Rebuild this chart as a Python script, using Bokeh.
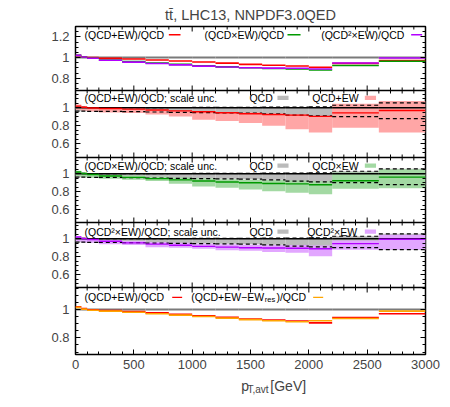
import json
import numpy as np
from bokeh.plotting import figure
from bokeh.layouts import column
from bokeh.models import (Range1d, LinearAxis, FixedTicker, SingleIntervalTicker,
                          Label, BoxAnnotation, CustomJSTickFormatter, Title, Span)
from bokeh.embed import file_html
from bokeh.resources import INLINE

# ---- binned ratios, p_T,avt bins in GeV ----
edges = [0, 50, 100, 200, 400, 600, 800, 1000, 1200, 1400, 1600, 1800, 2000, 2200, 2600, 3000]

qcd_central = [1.0] * 15
r_qcd_ew = [1.018, 1.006, 0.998, 0.992, 0.985, 0.976, 0.966, 0.956, 0.945, 0.933, 0.925, 0.918, 0.905, 0.943, 0.970]
r_qcd_x_ew = [1.020, 1.004, 0.993, 0.976, 0.960, 0.946, 0.933, 0.920, 0.909, 0.900, 0.893, 0.888, 0.879, 0.922, 0.963]
r_qcd2_x_ew = [1.020, 1.004, 0.992, 0.973, 0.955, 0.941, 0.928, 0.916, 0.907, 0.900, 0.897, 0.895, 0.889, 0.946, 0.995]
r_qcd_ew_nores = [1.015, 1.002, 0.994, 0.988, 0.980, 0.970, 0.960, 0.950, 0.939, 0.928, 0.920, 0.913, 0.920, 0.936, 0.988]

# scale-uncertainty envelopes, normalised to central QCD
qcd_up = [1.006, 1.004, 1.003, 1.002, 1.002, 1.002, 1.003, 1.004, 1.005, 1.006, 1.007, 1.008, 1.010, 1.028, 1.055]
qcd_dn = [0.962, 0.962, 0.961, 0.960, 0.957, 0.953, 0.950, 0.947, 0.944, 0.940, 0.933, 0.918, 0.910, 0.902, 0.879]
add_up = [1.037, 1.020, 1.002, 0.990, 0.980, 0.972, 0.962, 0.955, 0.950, 0.948, 0.935, 0.926, 0.910, 1.044, 1.075]
add_dn = [0.978, 0.966, 0.958, 0.948, 0.941, 0.926, 0.904, 0.867, 0.852, 0.830, 0.800, 0.763, 0.726, 0.778, 0.726]
mul_up = [1.035, 1.015, 1.000, 0.990, 0.980, 0.970, 0.960, 0.950, 0.940, 0.935, 0.930, 0.925, 0.918, 1.015, 1.050]
mul_dn = [0.975, 0.962, 0.956, 0.944, 0.933, 0.919, 0.889, 0.859, 0.844, 0.826, 0.807, 0.789, 0.774, 0.833, 0.840]
sq_up = [1.030, 1.015, 1.000, 0.985, 0.975, 0.965, 0.955, 0.945, 0.940, 0.935, 0.930, 0.930, 0.925, 0.980, 1.044]
sq_dn = [0.970, 0.960, 0.955, 0.940, 0.930, 0.907, 0.900, 0.889, 0.874, 0.867, 0.852, 0.844, 0.807, 0.878, 0.881]

lo = edges[:-1]
hi = edges[1:]

FONT = "Liberation Sans"
RED, PINK = "#ff0000", "#ffa6a6"
GREEN, LGREEN = "#009a00", "#a3d9a3"
PURPLE, LPURPLE = "#b300ff", "#e2a6ff"
ORANGE = "#ffa500"
GREY_BAND, GREY_LINE = "#bbbbbb", "#7a7a7a"

# ---- one frame, split into five stacked ratio panels ----
FRAME_H = 328
# name: (slice top, slice bottom) in px from the frame top, (y min, y max), major y ticks
panels = {
    "p1": ((0, 64), (0.68, 1.30), [0.8, 1.0, 1.2]),
    "p2": ((64, 131), (0.448, 1.192), [0.6, 0.8, 1.0]),
    "p3": ((131, 196), (0.459, 1.181), [0.6, 0.8, 1.0]),
    "p4": ((196, 261), (0.459, 1.181), [0.6, 0.8, 1.0]),
    "p5": ((261, 328), (0.682, 1.155), [0.8, 1.0]),
}

p = figure(width=450, height=26 + FRAME_H + 25,
           min_border_left=75, min_border_right=25, min_border_top=26, min_border_bottom=25,
           x_range=Range1d(0, 3000), y_range=Range1d(FRAME_H, 0),
           output_backend="svg", toolbar_location=None, tools="")
p.grid.visible = False
p.outline_line_color = "black"
p.outline_line_width = 1.5
p.outline_line_alpha = 1.0
p.title = Title(text="tt\u0304, LHC13, NNPDF3.0QED", align="center",
                text_font=FONT, text_font_size="14.5px", text_font_style="normal",
                standoff=7)


def tick_style(ax):
    ax.axis_line_color = None
    ax.major_tick_in, ax.major_tick_out = 5, 0
    ax.minor_tick_in, ax.minor_tick_out = 3, 0
    ax.major_tick_line_color = "black"
    ax.minor_tick_line_color = "black"
    ax.major_label_text_font = FONT
    ax.major_label_text_font_size = "13px"


# per-panel y scales, and the shared y ticks expressed in frame position
major_pos, minor_pos, tick_text = [], [], {}
for name, ((a, b), (ylo, yhi), yticks) in panels.items():
    per = (yhi - ylo) / (b - a)
    p.extra_y_ranges[name] = Range1d(ylo - (FRAME_H - b) * per, yhi + a * per)

    def to_frame(v, a=a, ylo=ylo, yhi=yhi, per=per):
        return round(a + (yhi - v) / per, 1)

    for v in yticks:
        pos = to_frame(v)
        major_pos.append(pos)
        tick_text[str(int(round(pos * 10)))] = "%g" % v
    for v in np.arange(0.0, 1.6, 0.05):
        if ylo < v < yhi and not any(abs(v - t) < 1e-6 for t in yticks):
            minor_pos.append(to_frame(v))

yt = FixedTicker(ticks=major_pos, minor_ticks=minor_pos)
left = p.yaxis[0]
left.ticker = yt
tick_style(left)
left.major_label_standoff = 6
left.formatter = CustomJSTickFormatter(
    code="const m = %s; return m[String(Math.round(tick*10))] || '';" % json.dumps(tick_text))
right = LinearAxis(ticker=yt, formatter=CustomJSTickFormatter(code="return ''"))
tick_style(right)
right.major_label_text_font_size = "1px"
right.major_label_standoff = 0
p.add_layout(right, "right")

xt = SingleIntervalTicker(interval=500, num_minor_ticks=5)
bx = p.xaxis[0]
bx.ticker = xt
tick_style(bx)
bx.major_label_standoff = 5

# panel borders, with x ticks pointing into the panels on both sides
x_major = list(range(0, 3001, 500))
x_minor = [x for x in range(0, 3001, 100) if x % 500]
for name, ((a, b), _, _) in panels.items():
    p.scatter(x=x_major, y=[a] * len(x_major), marker="dash", angle=np.pi / 2,
              size=10, line_color="black", line_width=1)
    p.scatter(x=x_minor, y=[a] * len(x_minor), marker="dash", angle=np.pi / 2,
              size=6, line_color="black", line_width=1)
    if a > 0:
        p.add_layout(Span(location=a, dimension="width", line_color="black", line_width=1.5))


def steps(name, vals, color, width=1.6, dash="solid"):
    p.segment(x0=lo, x1=hi, y0=vals, y1=vals, line_color=color,
              line_width=width, line_dash=dash, y_range_name=name)


def band(name, up, dn, color):
    p.quad(left=lo, right=hi, top=up, bottom=dn, fill_color=color, line_color=None,
           y_range_name=name)


def text(name, x, y, s, size="10.5px"):
    p.add_layout(Label(x=x, y=y, text=s, text_font=FONT, text_font_size=size,
                       text_baseline="middle", text_align="left", text_color="black",
                       y_range_name=name))


def key(name, x0, x1, y, half, color):
    p.add_layout(BoxAnnotation(left=x0, right=x1, top=y + half, bottom=y - half,
                               fill_color=color, fill_alpha=1.0, line_color=None,
                               y_range_name=name))


# ---- panel 1: the three combinations ----
steps("p1", qcd_central, GREY_LINE, 2)
steps("p1", r_qcd_ew, RED)
steps("p1", r_qcd_x_ew, GREEN)
steps("p1", r_qcd2_x_ew, PURPLE)
text("p1", 77, 1.22, "(QCD+EW)/QCD")
key("p1", 800, 900, 1.22, 0.007, RED)
text("p1", 1106, 1.22, "(QCD\u00d7EW)/QCD")
key("p1", 1817, 1929, 1.22, 0.007, GREEN)
text("p1", 2106, 1.22, "(QCD\u00b2\u00d7EW)/QCD")
key("p1", 2877, 2971, 1.22, 0.007, PURPLE)


# ---- panels 2-4: scale uncertainty bands ----
def unc_panel(name, up, dn, central, band_col, line_col, lab, lab2, x2, ly):
    band(name, qcd_up, qcd_dn, GREY_BAND)
    band(name, up, dn, band_col)
    steps(name, qcd_central, "black", 1.4)
    steps(name, qcd_up, "black", 1.2, "4 3")
    steps(name, qcd_dn, "black", 1.2, "4 3")
    steps(name, central, line_col, 1.4)
    text(name, 77, ly, lab)
    text(name, 1491, ly, "QCD")
    key(name, 1731, 1826, ly, 0.024, GREY_BAND)
    text(name, x2, ly, lab2)
    key(name, 2480, 2576, ly, 0.024, band_col)


unc_panel("p2", add_up, add_dn, r_qcd_ew, PINK, RED,
          "(QCD+EW)/QCD; scale unc.", "QCD+EW", 2029, 1.11)
unc_panel("p3", mul_up, mul_dn, r_qcd_x_ew, LGREEN, GREEN,
          "(QCD\u00d7EW)/QCD; scale unc.", "QCD\u00d7EW", 2029, 1.09)
unc_panel("p4", sq_up, sq_dn, r_qcd2_x_ew, LPURPLE, PURPLE,
          "(QCD\u00b2\u00d7EW)/QCD; scale unc.", "QCD\u00b2\u00d7EW", 1986, 1.08)

# ---- panel 5: resonance-subtracted EW ----
steps("p5", qcd_central, GREY_LINE, 2)
steps("p5", r_qcd_ew, RED)
steps("p5", r_qcd_ew_nores, ORANGE)
text("p5", 77, 1.085, "(QCD+EW)/QCD")
key("p5", 829, 914, 1.085, 0.005, RED)
text("p5", 992, 1.085, "(QCD+EW\u2212EW")
text("p5", 1622, 1.072, "res", "7.5px")
text("p5", 1722, 1.085, ")/QCD")
key("p5", 2037, 2123, 1.085, 0.005, ORANGE)

# ---- strip holding the x-axis title (with its subscript) ----
xlab = figure(width=450, height=28, min_border=0,
              x_range=Range1d(0, 450), y_range=Range1d(0, 28),
              output_backend="svg", toolbar_location=None, tools="")
xlab.axis.visible = False
xlab.grid.visible = False
xlab.outline_line_color = None
for s, x, y, size in [("p", 213, 22, "14px"), ("T,avt", 221, 18.5, "10px"),
                      ("[GeV]", 250.5, 22, "14px")]:
    xlab.add_layout(Label(x=x, y=y, text=s, text_font=FONT, text_font_size=size,
                          text_baseline="middle", text_align="left"))

layout = column(p, xlab, spacing=0)
open("out.html", "w").write(file_html(layout, INLINE))
